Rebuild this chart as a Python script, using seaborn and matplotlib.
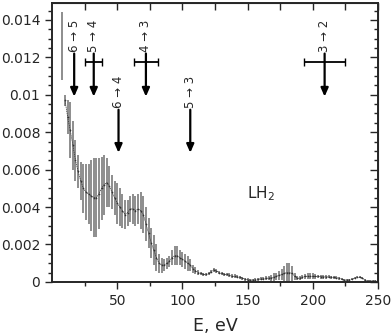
import numpy as np
import pandas as pd
import matplotlib
matplotlib.use("Agg")
import matplotlib.pyplot as plt
import seaborn as sns

# Spectrum (E in eV), value and error
energy = [8, 10, 12, 14, 16, 18, 20, 22, 24, 26,
          28, 30, 32, 34, 36, 38, 40, 42, 44, 46,
          48, 50, 52, 54, 56, 58, 60, 62, 64, 66,
          68, 70, 72, 74, 76, 78, 80, 82, 84, 86,
          88, 90, 92, 94, 96, 98, 100, 102, 104, 106,
          108, 110, 112, 114, 116, 118, 120, 122, 124, 126,
          128, 130, 132, 134, 136, 138, 140, 142, 144, 146,
          148, 150, 152, 154, 156, 158, 160, 162, 164, 166,
          168, 170, 172, 174, 176, 178, 180, 182, 184, 186,
          188, 190, 192, 194, 196, 198, 200, 202, 204, 206,
          208, 210, 212, 214, 216, 218, 220, 222, 224, 226,
          228, 230, 232, 234, 236, 238, 240, 242, 244, 246,
          248, 250]
value = [0.0126, 0.0097, 0.0088, 0.0081, 0.0073, 0.0065, 0.0059, 0.0054, 0.0050, 0.0048,
         0.0047, 0.0046, 0.0045, 0.0045, 0.0047, 0.0050, 0.0052, 0.0053, 0.0051, 0.0048,
         0.0045, 0.0042, 0.0040, 0.0038, 0.0036, 0.0037, 0.0039, 0.0039, 0.0038, 0.0039,
         0.0038, 0.0036, 0.0031, 0.0026, 0.0021, 0.0017, 0.0013, 0.0010, 0.0009, 0.0009,
         0.0010, 0.0011, 0.0013, 0.0014, 0.0014, 0.0013, 0.0012, 0.0011, 0.0010, 0.0009,
         0.0007, 0.0006, 0.0005, 0.00045, 0.0004, 0.0004, 0.00045, 0.00055, 0.00065, 0.0006,
         0.0005, 0.00045, 0.0004, 0.0004, 0.00035, 0.0003, 0.0003, 0.00028, 0.00025, 0.0002,
         0.00015, 0.00012, 0.0001, 0.0001, 0.00012, 0.00015, 0.00016, 0.00018, 0.0002, 0.0002,
         0.00022, 0.00025, 0.0003, 0.00035, 0.0004, 0.00045, 0.0005, 0.0005, 0.00045, 0.0003,
         0.0002, 0.0002, 0.00025, 0.0003, 0.0003, 0.0003, 0.0003, 0.0003, 0.00029, 0.00028,
         0.00028, 0.00027, 0.00027, 0.00026, 0.00024, 0.00022, 0.0002, 0.00015, 0.0001, 0.0001,
         0.00012, 0.00015, 0.0002, 0.00024, 0.00025, 0.0002, 0.0001, 0.00005, 0.00005, 0.00005,
         0.00005, 0.00005]
error = [0.0018, 0.0003, 0.0009, 0.0015, 0.0013, 0.0011, 0.0009, 0.0010, 0.0013, 0.0015,
         0.0016, 0.0019, 0.0021, 0.0021, 0.0019, 0.0017, 0.0016, 0.0013, 0.0011, 0.0009,
         0.0009, 0.0011, 0.0010, 0.0009, 0.0008, 0.0007, 0.0007, 0.0008, 0.0008, 0.0008,
         0.0010, 0.0010, 0.0009, 0.0008, 0.0008, 0.0008, 0.0007, 0.0005, 0.0004, 0.0003,
         0.0003, 0.0003, 0.0004, 0.0005, 0.0005, 0.0004, 0.0004, 0.0004, 0.0004, 0.0003,
         0.0002, 0.0002, 0.00012, 0.0001, 0.0001, 0.0001, 0.0001, 0.0001, 0.0001, 0.0001,
         0.0001, 0.0001, 0.0001, 0.0001, 0.0001, 0.0001, 0.0001, 0.00008, 0.00008, 0.00008,
         0.00008, 0.00008, 0.00008, 0.00008, 0.00008, 0.00008, 0.00008, 0.0001, 0.0001, 0.00012,
         0.00015, 0.0002, 0.0002, 0.00025, 0.0003, 0.0004, 0.0005, 0.0005, 0.0004, 0.0002,
         0.0001, 0.0001, 0.0001, 0.00012, 0.00015, 0.00015, 0.00015, 0.00012, 0.0001, 0.0001,
         0.0001, 0.0001, 0.00008, 0.00008, 0.00008, 0.00008, 0.00008, 0.00006, 0.00006, 0.00005,
         0.00005, 0.00005, 0.00005, 0.00005, 0.00005, 0.00005, 0.00005, 0.00004, 0.00004, 0.00004,
         0.00004, 0.00004]

# Transition arrows: label, energy, arrow start, arrow tip
trans_labels = ["6 → 5", "5 → 4", "4 → 3", "3 → 2", "6 → 4", "5 → 3"]
trans_energy = [17, 32, 72, 209, 51, 106]
trans_start = [0.0122, 0.0122, 0.0122, 0.0122, 0.0092, 0.0092]
trans_tip = [0.0099, 0.0099, 0.0099, 0.0099, 0.0069, 0.0069]

# Horizontal error bars on some transitions
bar_energy = [32, 72, 209]
bar_halfwidth = [6.5, 9, 16]
bar_level = 0.01173

df = pd.DataFrame({"E": energy, "val": value, "err": error})

sns.set_style("ticks")
plt.rcParams["font.family"] = ["DejaVu Sans"]

fig = plt.figure(figsize=(3.91, 3.36), dpi=100)
ax = fig.add_axes([0.133, 0.161, 0.834, 0.830])

# Error bars (vertical gray hatching)
ax.vlines(df["E"], df["val"] - df["err"], df["val"] + df["err"],
          color="#808080", lw=1.25)
# central dotted line (first point is an isolated bar)
sns.lineplot(data=df.iloc[1:], x="E", y="val", ax=ax, color="#333333", lw=0.5,
             marker="o", markersize=1.2, markeredgewidth=0, linestyle=(0, (2, 1)))

# transition arrows
for lab, e, y0, y1 in zip(trans_labels, trans_energy, trans_start, trans_tip):
    ax.annotate("", xy=(e, y1), xytext=(e, y0),
                arrowprops=dict(arrowstyle="-|>,head_length=0.5,head_width=0.22",
                                lw=1.6, color="black", shrinkA=0, shrinkB=0))
    ax.text(e, y0 + 0.0001, lab, rotation=90, ha="center", va="bottom", fontsize=8.5)

ax.errorbar(bar_energy, [bar_level] * len(bar_energy), xerr=bar_halfwidth,
            fmt="none", ecolor="black", elinewidth=1.3, capsize=3, capthick=1)

ax.text(160, 0.0047, "LH$_2$", ha="center", va="center", fontsize=11)

ax.set_xlim(0, 250)
ax.set_ylim(0, 0.0149)
ax.set_xticks([50, 100, 150, 200, 250])
ax.set_xticklabels(["50", "100", "150", "200", "250"])
ax.set_xticks(np.arange(25, 250, 50), minor=True)
yt = [0, 0.002, 0.004, 0.006, 0.008, 0.01, 0.012, 0.014]
ax.set_yticks(yt)
ax.set_yticklabels(["0", "0.002", "0.004", "0.006", "0.008", "0.01", "0.012", "0.014"])
ax.set_yticks(np.arange(0, 0.0149, 0.0005), minor=True)
ax.tick_params(axis="both", which="major", labelsize=10, length=5, width=1, direction="out")
ax.tick_params(axis="both", which="minor", length=3, width=1, direction="out")
ax.set_xlabel("E, eV", fontsize=12.5, labelpad=7)
ax.set_ylabel("")
for s in ax.spines.values():
    s.set_linewidth(1.4)
    s.set_visible(True)

# inward ticks on top and right
top = ax.secondary_xaxis("top")
top.set_xticks(np.arange(25, 251, 25))
top.tick_params(direction="in", length=5, width=1, labeltop=False)
right = ax.secondary_yaxis("right")
right.set_yticks(yt)
right.set_yticks(np.arange(0, 0.0149, 0.0005), minor=True)
right.tick_params(which="major", direction="in", length=6, width=1, labelright=False)
right.tick_params(which="minor", direction="in", length=3, width=1)

fig.savefig("out.png", dpi=100)
